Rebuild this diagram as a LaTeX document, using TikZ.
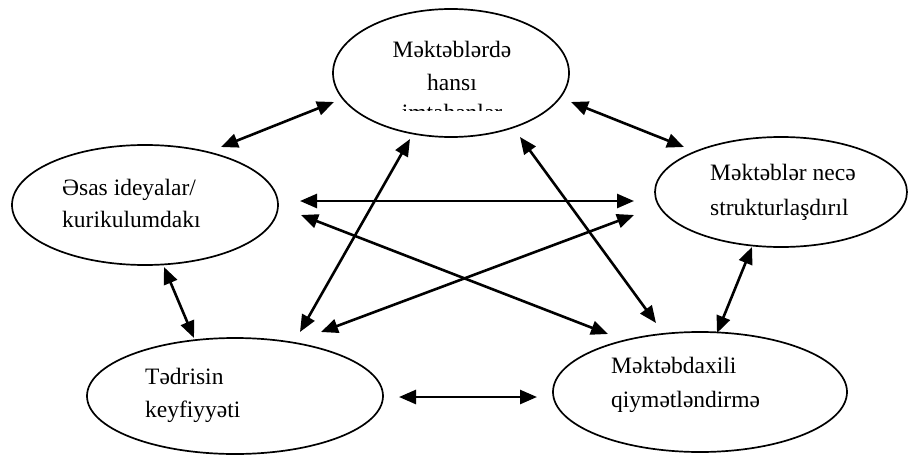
\documentclass[tikz,border=0pt]{standalone}
\usepackage{fontspec}
\setmainfont{Liberation Serif}
\usetikzlibrary{shapes.geometric,arrows.meta}
\tikzset{
  bubble/.style={draw, ellipse, line width=1.7pt, inner sep=0pt},
  txt/.style={inner sep=0pt, font=\fontsize{23.5}{30}\selectfont},
  link/.style={line width=2.6pt, {Triangle[length=17pt,width=14pt]}-{Triangle[length=17pt,width=14pt]}}
}
\begin{document}
\begin{tikzpicture}[x=1pt,y=-1pt]
\useasboundingbox (0,0) rectangle (908,455);
% ellipses
\node[bubble, minimum width=236pt, minimum height=128pt] (top) at (451,73) {};
\node[bubble, minimum width=266pt, minimum height=120pt] (left) at (145,205) {};
\node[bubble, minimum width=252pt, minimum height=110pt] (right) at (781,192) {};
\node[bubble, minimum width=296pt, minimum height=116pt] (bl) at (235,396) {};
\node[bubble, minimum width=294pt, minimum height=120pt] (br) at (700,392) {};
% texts
\node[txt, anchor=base] (t1) at (452,57) {Məktəblərdə};
\node[txt, anchor=base] (t2) at (452,90) {hansı};
\begin{scope}
\clip (330,0) rectangle (580,110);
\node[txt, anchor=base] (t3) at (452,120) {imtahanlar};
\end{scope}
\node[txt, anchor=base west] (l1) at (62,195) {Əsas ideyalar/};
\node[txt, anchor=base west] (l2) at (62,227) {kurikulumdakı};
\node[txt, anchor=base west] (r1) at (710,180) {Məktəblər necə};
\node[txt, anchor=base west] (r2) at (710,215) {strukturlaşdırıl};
\node[txt, anchor=base west] (b1) at (145,384) {Tədrisin};
\node[txt, anchor=base west] (b2) at (145,417) {keyfiyyəti};
\node[txt, anchor=base west] (c1) at (611,373) {Məktəbdaxili};
\node[txt, anchor=base west] (c2) at (611,407) {qiymətləndirmə};
% arrow end points
\coordinate (a1s) at (221,147); \coordinate (a1e) at (334,102);
\coordinate (a2s) at (571,102); \coordinate (a2e) at (684,147);
\coordinate (a3s) at (300,201); \coordinate (a3e) at (634,201);
\coordinate (a4s) at (301,215); \coordinate (a4e) at (608,334);
\coordinate (a5s) at (321,332); \coordinate (a5e) at (634,215);
\coordinate (a6s) at (300,332); \coordinate (a6e) at (410,139);
\coordinate (a7s) at (520,137); \coordinate (a7e) at (656,323);
\coordinate (a8s) at (164,267); \coordinate (a8e) at (194,338);
\coordinate (a9s) at (752,247); \coordinate (a9e) at (717,333);
\coordinate (a10s) at (399,397); \coordinate (a10e) at (537,397);
\draw[link] (a1s) -- (a1e);
\draw[link] (a2s) -- (a2e);
\draw[link] (a3s) -- (a3e);
\draw[link] (a4s) -- (a4e);
\draw[link] (a5s) -- (a5e);
\draw[link] (a6s) -- (a6e);
\draw[link] (a7s) -- (a7e);
\draw[link] (a8s) -- (a8e);
\draw[link] (a9s) -- (a9e);
\draw[link] (a10s) -- (a10e);
\end{tikzpicture}
\end{document}
